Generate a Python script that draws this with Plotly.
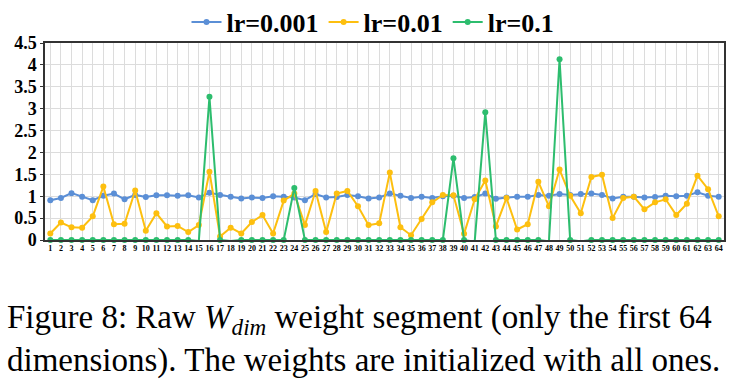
import plotly.graph_objects as go

dims = list(range(1, 65))
tick_labels = [str(d) for d in dims]

lr_0001 = [0.91, 0.96, 1.07, 0.99, 0.91, 1.01, 1.06, 0.93, 1.03, 0.98, 1.02, 1.02, 1.01, 1.02, 0.97, 1.08,
           1.03, 0.99, 0.95, 0.97, 0.96, 1.00, 0.99, 0.97, 0.91, 1.05, 0.97, 0.98, 1.03, 1.00, 0.95, 0.97,
           1.06, 1.01, 0.96, 0.99, 0.96, 1.00, 1.01, 0.96, 0.98, 1.06, 0.94, 0.97, 0.99, 0.99, 1.03, 1.01,
           1.05, 1.03, 1.05, 1.06, 1.03, 0.95, 0.99, 0.99, 0.97, 0.98, 1.01, 1.00, 1.01, 1.09, 1.01, 0.99]

lr_001 = [0.15, 0.40, 0.29, 0.28, 0.54, 1.22, 0.36, 0.37, 1.13, 0.21, 0.61, 0.31, 0.32, 0.18, 0.34, 1.56,
          0.08, 0.28, 0.15, 0.41, 0.57, 0.15, 0.90, 1.06, 0.34, 1.12, 0.18, 1.06, 1.12, 0.77, 0.34, 0.38,
          1.54, 0.29, 0.11, 0.48, 0.86, 1.03, 1.02, 0.14, 0.93, 1.36, 0.31, 0.96, 0.24, 0.36, 1.33, 0.77,
          1.61, 1.01, 0.61, 1.44, 1.49, 0.50, 0.96, 0.99, 0.70, 0.86, 0.93, 0.57, 0.83, 1.47, 1.16, 0.54]

lr_01 = [0.00, 0.00, 0.00, 0.00, 0.00, 0.00, 0.00, 0.00, 0.00, 0.00, 0.00, 0.00, 0.00, 0.00, -0.02, 3.27,
         0.00, -0.02, 0.00, 0.00, 0.00, 0.00, 0.00, 1.19, 0.00, 0.00, 0.00, 0.00, 0.00, 0.00, 0.00, 0.00,
         0.00, 0.00, 0.00, 0.00, 0.00, 0.00, 1.87, 0.00, -0.04, 2.92, 0.00, 0.00, 0.00, 0.00, 0.00, -0.03,
         4.13, 0.00, -0.03, 0.00, 0.00, 0.00, 0.00, 0.00, 0.00, 0.00, 0.00, 0.00, 0.00, 0.00, 0.00, 0.00]

series_names = ["lr=0.001", "lr=0.01", "lr=0.1"]
colors = ["#5b8fd6", "#fdbf0f", "#2dbd6e"]

caption = ("Figure 8: Raw <i>W</i><sub><i>dim</i></sub> weight segment (only the first 64<br>"
           "dimensions). The weights are initialized with all ones.")

fig = go.Figure()
for name, vals, c in zip(series_names, [lr_0001, lr_001, lr_01], colors):
    fig.add_trace(go.Scatter(
        x=tick_labels, y=vals, name=name, mode="lines+markers",
        line=dict(color=c, width=2), marker=dict(color=c, size=6),
        cliponaxis=False,
    ))

fig.update_layout(
    width=746, height=388,
    margin=dict(l=45, r=22, t=43, b=148, autoexpand=False),
    paper_bgcolor="white", plot_bgcolor="white",
    font=dict(family="Liberation Serif", color="black"),
    showlegend=True,
    legend=dict(orientation="h", xref="container", yref="container",
                x=0.5, xanchor="center", y=(388 - 22) / 388, yanchor="middle",
                bgcolor="rgba(0,0,0,0)",
                font=dict(family="Liberation Serif", size=26, color="black", weight="bold"),
                itemwidth=30, tracegroupgap=0),
    xaxis=dict(type="category", tickmode="array", tickvals=tick_labels, ticktext=tick_labels,
               tickangle=0, tickfont=dict(size=8, family="Liberation Serif", weight="bold", color="black"),
               showgrid=True, gridcolor="#dcdcdc", gridwidth=1,
               showline=True, linecolor="#333333", linewidth=1.5, mirror=True,
               ticks="", range=[-0.5, 63.5]),
    yaxis=dict(range=[0, 4.5], dtick=0.5, tick0=0,
               tickfont=dict(size=18, family="Liberation Serif", weight="bold", color="black"),
               showgrid=True, gridcolor="#dcdcdc", gridwidth=1,
               showline=True, linecolor="#333333", linewidth=1.5, mirror=True,
               ticks="outside", ticklen=3, tickcolor="#333333", zeroline=False),
)

x_cap = (5 - 45) / 679
fig.add_annotation(text=caption, align="left",
                   xref="paper", yref="paper", x=x_cap, xanchor="left",
                   y=(240 - 339) / 197, yanchor="middle", showarrow=False,
                   font=dict(family="Liberation Serif", size=33, color="black"))

fig.write_html("out.html", config={"displayModeBar": False},
               post_script="document.body.style.margin='0px';")
